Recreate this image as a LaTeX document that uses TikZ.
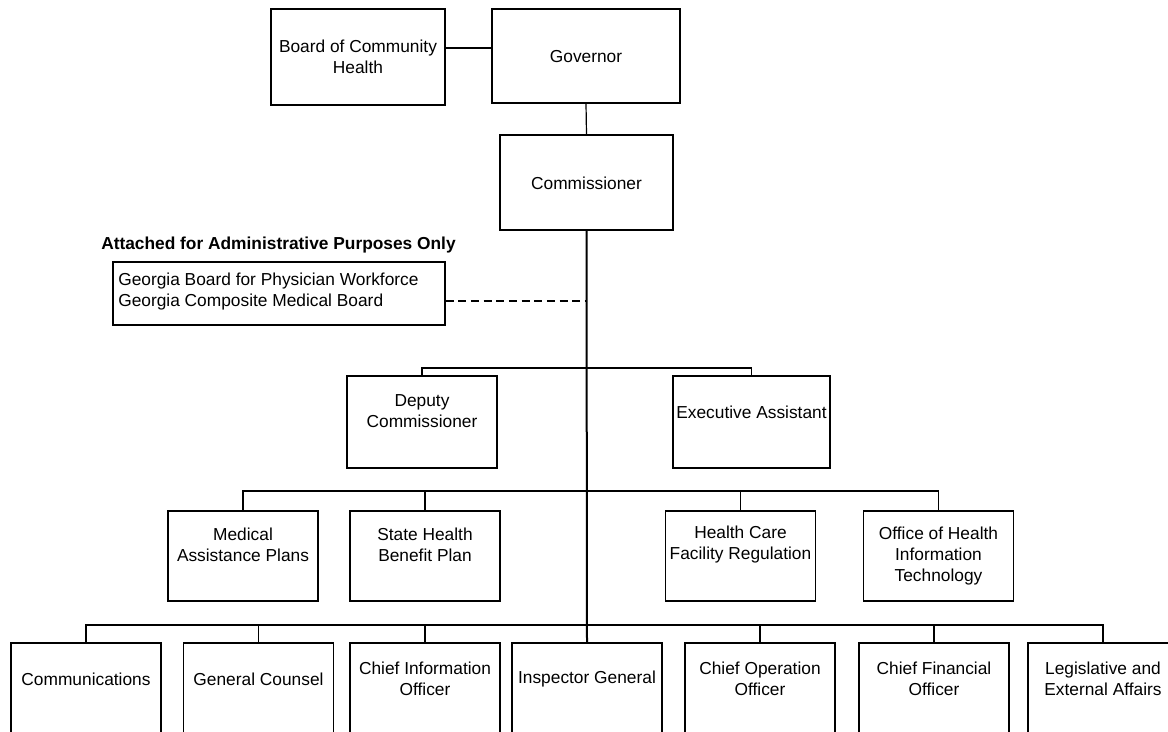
\documentclass[tikz,border=0pt]{standalone}
\usepackage{fontspec}
\setmainfont{Liberation Sans}
\tikzset{
  box/.style={draw, line width=0.9pt, inner sep=0pt, minimum width=112.5pt, minimum height=67.5pt},
  txt/.style={inner sep=0pt, align=center, font=\fontsize{13}{15.75}\selectfont},
  conn/.style={line width=0.9pt},
  trunk/.style={line width=1.5pt},
}
\begin{document}
\begin{tikzpicture}[x=0.75pt,y=0.75pt,yscale=-1,xscale=1]
    \useasboundingbox (0,0) rectangle (1168,732);
    %Shape: Rectangle
    \node[box, minimum width=130.5pt, minimum height=72pt] (board) at (358,57) {};
    %Shape: Rectangle
    \node[box, minimum width=141pt, minimum height=70.5pt] (gov) at (586,56) {};
    %Shape: Rectangle
    \node[box, minimum width=129.75pt, minimum height=71.25pt] (comm) at (586.5,182.5) {};
    %Shape: Rectangle
    \node[box, minimum width=249pt, minimum height=47.25pt] (geo) at (279,293.5) {};
    %Shape: Rectangle
    \node[box, minimum height=69pt] (dep) at (422,422) {};
    %Shape: Rectangle
    \node[box, minimum width=117.75pt, minimum height=69pt] (exec) at (751.5,422) {};
    %Shape: Rectangle
    \node[box] (med) at (243,556) {};
    \node[box] (shbp) at (425,556) {};
    \node[box] (hcfr) at (740.5,556) {};
    \node[box] (ohit) at (938.5,556) {};
    %Shape: Rectangle
    \node[box] (comms) at (86,688) {};
    \node[box] (gc) at (258.5,688) {};
    \node[box] (cio) at (425,688) {};
    \node[box] (ig) at (587,688) {};
    \node[box] (coo) at (760,688) {};
    \node[box] (cfo) at (934,688) {};
    \node[box] (leg) at (1103,688) {};

    \coordinate (link) at (468,48);
    \coordinate (dash) at (587,301);
    \coordinate (lev1) at (587,368);
    \coordinate (lev2) at (587,491);
    \coordinate (lev3) at (587,625);

    %Straight Lines
    \draw[conn] (board.east |- link) -- (gov.west |- link);
    \draw[conn] (gov.south) -- (comm.north);
    \draw[trunk] (comm.south) -- (ig.north);
    \draw[conn, dash pattern=on 6pt off 3.5pt] (geo.east |- dash) -- (dash);
    %Straight Lines
    \draw[conn] (lev1) -| (dep.north);
    \draw[conn] (lev1) -| (exec.north);
    %Straight Lines
    \draw[conn] (lev2) -| (med.north);
    \draw[conn] (lev2) -| (shbp.north);
    \draw[conn] (lev2) -| (hcfr.north);
    \draw[conn] (lev2) -| (ohit.north);
    %Straight Lines
    \draw[conn] (lev3) -| (comms.north);
    \draw[conn] (lev3) -| (gc.north);
    \draw[conn] (lev3) -| (cio.north);
    \draw[conn] (lev3) -| (coo.north);
    \draw[conn] (lev3) -| (cfo.north);
    \draw[conn] (lev3) -| (leg.north);

    % Text Node
    \node[txt] (board-t) at (358,57) {Board of Community\\Health};
    % Text Node
    \node[txt] (gov-t) at (586,57) {Governor};
    % Text Node
    \node[txt] (comm-t) at (586.5,183) {Commissioner};
    % Text Node
    \node[txt, anchor=west, font=\fontsize{13}{15.75}\selectfont\bfseries] (att-t) at (101,245) {Attached for Administrative Purposes Only};
    % Text Node
    \node[txt, anchor=west, align=left] (geo-t) at (118,292) {Georgia Board for Physician Workforce\\Georgia Composite Medical Board};
    % Text Node
    \node[txt] (dep-t) at (422,411) {Deputy\\Commissioner};
    % Text Node
    \node[txt] (exec-t) at (751.5,412) {Executive Assistant};
    % Text Node
    \node[txt] (med-t) at (243,545) {Medical\\Assistance Plans};
    % Text Node
    \node[txt] (shbp-t) at (425,545) {State Health\\Benefit Plan};
    % Text Node
    \node[txt] (hcfr-t) at (740.5,545) {Health Care\\Facility Regulation};
    % Text Node
    \node[txt] (ohit-t) at (938.5,556) {Office of Health\\Information\\Technology};
    % Text Node
    \node[txt] (comms-t) at (86,679.5) {Communications};
    % Text Node
    \node[txt] (gc-t) at (258.5,679.5) {General Counsel};
    % Text Node
    \node[txt] (cio-t) at (425,678.5) {Chief Information\\Officer};
    % Text Node
    \node[txt] (ig-t) at (587,679) {Inspector General};
    % Text Node
    \node[txt] (coo-t) at (760,678.5) {Chief Operation\\Officer};
    % Text Node
    \node[txt] (cfo-t) at (934,678.5) {Chief Financial\\Officer};
    % Text Node
    \node[txt] (leg-t) at (1103,678.5) {Legislative and\\External Affairs};
\end{tikzpicture}
\end{document}
